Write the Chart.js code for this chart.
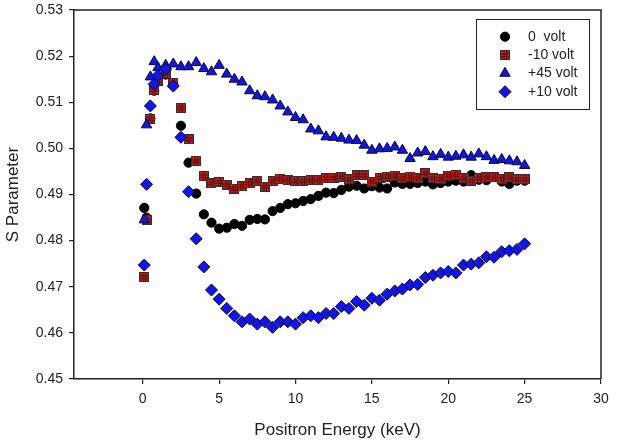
<!DOCTYPE html>
<html>
<head>
<meta charset="utf-8">
<script src="https://cdn.jsdelivr.net/npm/chart.js@4/dist/chart.umd.min.js"></script>
<style>
  html, body { margin: 0; padding: 0; background: #ffffff; }
  #wrap { width: 617px; height: 446px; }
</style>
</head>
<body>
<div id="wrap"><canvas id="c" width="617" height="446"></canvas></div>
<script>
// ---- data ----
const energy = [0.1, 0.25, 0.5, 0.75, 1, 1.5, 2, 2.5, 3, 3.5, 4, 4.5, 5, 5.5, 6, 6.5, 7, 7.5, 8, 8.5,
  9, 9.5, 10, 10.5, 11, 11.5, 12, 12.5, 13, 13.5, 14, 14.5, 15, 15.5, 16, 16.5, 17, 17.5, 18, 18.5,
  19, 19.5, 20, 20.5, 21, 21.5, 22, 22.5, 23, 23.5, 24, 24.5, 25];

const s0volt = [0.4871, 0.4850, 0.5065, 0.5125, 0.5150, 0.5160, 0.5140, 0.5049, 0.4969, 0.4902,
  0.4857, 0.4839, 0.4826, 0.4828, 0.4836, 0.4832, 0.4845, 0.4847, 0.4846, 0.4864,
  0.4871, 0.4879, 0.4881, 0.4886, 0.4890, 0.4897, 0.4904, 0.4903, 0.4910, 0.4917,
  0.4919, 0.4913, 0.4918, 0.4915, 0.4913, 0.4926, 0.4923, 0.4923, 0.4925, 0.4928,
  0.4922, 0.4925, 0.4928, 0.4930, 0.4928, 0.4942, 0.4932, 0.4931, 0.4938, 0.4928,
  0.4923, 0.4930, 0.4930];

const sMinus10volt = [0.4721, 0.4845, 0.5064, 0.5127, 0.5147, 0.5163, 0.5142, 0.5088, 0.5020, 0.4973,
  0.4940, 0.4924, 0.4927, 0.4921, 0.4913, 0.4918, 0.4924, 0.4929, 0.4917, 0.4929,
  0.4934, 0.4931, 0.4929, 0.4929, 0.4931, 0.4931, 0.4935, 0.4936, 0.4938, 0.4933,
  0.4942, 0.4942, 0.4928, 0.4936, 0.4939, 0.4941, 0.4935, 0.4939, 0.4935, 0.4946,
  0.4935, 0.4934, 0.4941, 0.4943, 0.4935, 0.4930, 0.4935, 0.4937, 0.4937, 0.4934,
  0.4937, 0.4933, 0.4933];

const sPlus45volt = [0.4845, 0.5051, 0.5155, 0.5188, 0.5175, 0.5180, 0.5183, 0.5177, 0.5177, 0.5186,
  0.5173, 0.5166, 0.5180, 0.5161, 0.5150, 0.5144, 0.5125, 0.5114, 0.5112, 0.5105,
  0.5092, 0.5079, 0.5067, 0.5062, 0.5042, 0.5038, 0.5025, 0.5024, 0.5022, 0.5018,
  0.5017, 0.5007, 0.4996, 0.4999, 0.5000, 0.5003, 0.4996, 0.4978, 0.4990, 0.4993,
  0.4982, 0.4987, 0.4981, 0.4983, 0.4986, 0.4981, 0.4988, 0.4982, 0.4974, 0.4976,
  0.4973, 0.4971, 0.4963];

const sPlus10volt = [0.4747, 0.4922, 0.5092, 0.5139, 0.5158, 0.5172, 0.5135, 0.5024, 0.4906, 0.4804,
  0.4743, 0.4693, 0.4673, 0.4653, 0.4637, 0.4624, 0.4630, 0.4619, 0.4624, 0.4612,
  0.4624, 0.4624, 0.4619, 0.4633, 0.4637, 0.4633, 0.4642, 0.4642, 0.4657, 0.4653,
  0.4668, 0.4660, 0.4675, 0.4671, 0.4684, 0.4691, 0.4695, 0.4704, 0.4705, 0.4720,
  0.4725, 0.4730, 0.4733, 0.4730, 0.4747, 0.4749, 0.4752, 0.4765, 0.4764, 0.4776,
  0.4778, 0.4781, 0.4793];

const seriesLabels = ['0  volt', '-10 volt', '+45 volt', '+10 volt'];
const xTicks = [0, 5, 10, 15, 20, 25, 30];
const yTicks = [0.45, 0.46, 0.47, 0.48, 0.49, 0.50, 0.51, 0.52, 0.53];
const xTitle = 'Positron Energy (keV)';
const yTitle = 'S Parameter';

// ---- styling ----
const FONT = '"Liberation Sans", Arial, Helvetica, sans-serif';
const TEXT = '#222222';
const AXIS = '#222222';

function makeHatchedSquare() {
  const n = 10;
  const c = document.createElement('canvas');
  c.width = n; c.height = n;
  const g = c.getContext('2d');
  g.fillStyle = '#3d2b2b'; g.fillRect(0, 0, n, n);
  g.fillStyle = '#c4211d'; g.fillRect(1, 1, n - 2, n - 2);
  g.fillStyle = '#5e0b0b';
  g.fillRect(3.5, 1, 1, n - 2); g.fillRect(6, 1, 1, n - 2);
  g.fillRect(1, 3.5, n - 2, 1); g.fillRect(1, 6, n - 2, 1);
  return c;
}
const squareImg = makeHatchedSquare();

const pts = arr => energy.map((e, i) => ({ x: e, y: arr[i] }));

const datasets = [
  { label: seriesLabels[0], data: pts(s0volt), order: 3,
    pointStyle: 'circle', pointRadius: 4.6, backgroundColor: '#000000', borderColor: '#000000', borderWidth: 1 },
  { label: seriesLabels[1], data: pts(sMinus10volt), order: 2,
    pointStyle: squareImg, pointRadius: 5, backgroundColor: '#c4211d', borderColor: '#3d2b2b', borderWidth: 1 },
  { label: seriesLabels[2], data: pts(sPlus45volt), order: 1,
    pointStyle: 'triangle', pointRadius: 6, backgroundColor: '#1414e0', borderColor: '#0a0a30', borderWidth: 1 },
  { label: seriesLabels[3], data: pts(sPlus10volt), order: 0,
    pointStyle: 'rectRot', pointRadius: 6, backgroundColor: '#1414e8', borderColor: '#0a0a30', borderWidth: 1 }
];

const framePlugin = {
  id: 'frame',
  afterDatasetsDraw(chart) {
    const { ctx, chartArea: a } = chart;
    ctx.save();
    ctx.strokeStyle = AXIS;
    ctx.lineWidth = 1.5;
    ctx.beginPath();
    ctx.moveTo(a.left, a.top); ctx.lineTo(a.right, a.top); ctx.lineTo(a.right, a.bottom);
    ctx.stroke();
    ctx.restore();
  }
};

const legendPlugin = {
  id: 'boxLegend',
  afterDraw(chart) {
    const ctx = chart.ctx;
    const box = { x: 476.5, y: 19.5, w: 113, h: 90 };
    ctx.save();
    ctx.fillStyle = '#ffffff';
    ctx.fillRect(box.x, box.y, box.w, box.h);
    ctx.strokeStyle = AXIS; ctx.lineWidth = 1;
    ctx.strokeRect(box.x, box.y, box.w, box.h);
    const rowY = [36.7, 55, 73.3, 91.7];
    chart.data.datasets.forEach((ds, i) => {
      const y = rowY[i];
      ctx.fillStyle = ds.backgroundColor;
      ctx.strokeStyle = ds.borderColor;
      ctx.lineWidth = ds.borderWidth;
      Chart.helpers.drawPoint(ctx, { pointStyle: ds.pointStyle, radius: ds.pointRadius, rotation: 0, borderWidth: ds.borderWidth }, 505, y);
      ctx.fillStyle = TEXT;
      ctx.font = '14px ' + FONT;
      ctx.textBaseline = 'middle';
      ctx.textAlign = 'left';
      ctx.fillText(ds.label, 528, y);
    });
    ctx.restore();
  }
};

new Chart(document.getElementById('c'), {
  type: 'scatter',
  data: { datasets },
  options: {
    responsive: false,
    animation: false,
    layout: { padding: { left: 0, right: 16, top: 10, bottom: 0 } },
    plugins: { legend: { display: false }, tooltip: { enabled: false } },
    scales: {
      x: {
        type: 'linear', min: -4.5, max: 30,
        afterBuildTicks: s => { s.ticks = xTicks.map(v => ({ value: v })); },
        afterFit: s => { s.height = 67; s.paddingLeft = 0; s.paddingRight = 0; s.paddingTop = 0; s.paddingBottom = 0; },
        grid: { display: true, drawOnChartArea: false, drawTicks: true, tickLength: 5, color: AXIS, lineWidth: 1.2 },
        border: { display: true, color: AXIS, width: 1.5 },
        ticks: { color: TEXT, padding: 7, font: { family: FONT, size: 14 }, maxRotation: 0, callback: v => String(v) },
        title: { display: true, text: xTitle, color: TEXT, font: { family: FONT, size: 17 }, padding: { top: 0, bottom: 5 } }
      },
      y: {
        type: 'linear', min: 0.45, max: 0.53,
        afterBuildTicks: s => { s.ticks = yTicks.map(v => ({ value: v })); },
        afterFit: s => { s.width = 74; s.paddingLeft = 0; s.paddingRight = 0; s.paddingTop = 0; s.paddingBottom = 0; },
        grid: { display: true, drawOnChartArea: false, drawTicks: true, tickLength: 5, color: AXIS, lineWidth: 1.2 },
        border: { display: true, color: AXIS, width: 1.5 },
        ticks: { color: TEXT, padding: 6, font: { family: FONT, size: 14 }, callback: v => Number(v).toFixed(2) },
        title: { display: true, text: yTitle, color: TEXT, font: { family: FONT, size: 17 }, padding: { top: 3, bottom: 0 } }
      }
    }
  },
  plugins: [framePlugin, legendPlugin]
});
</script>
</body>
</html>
